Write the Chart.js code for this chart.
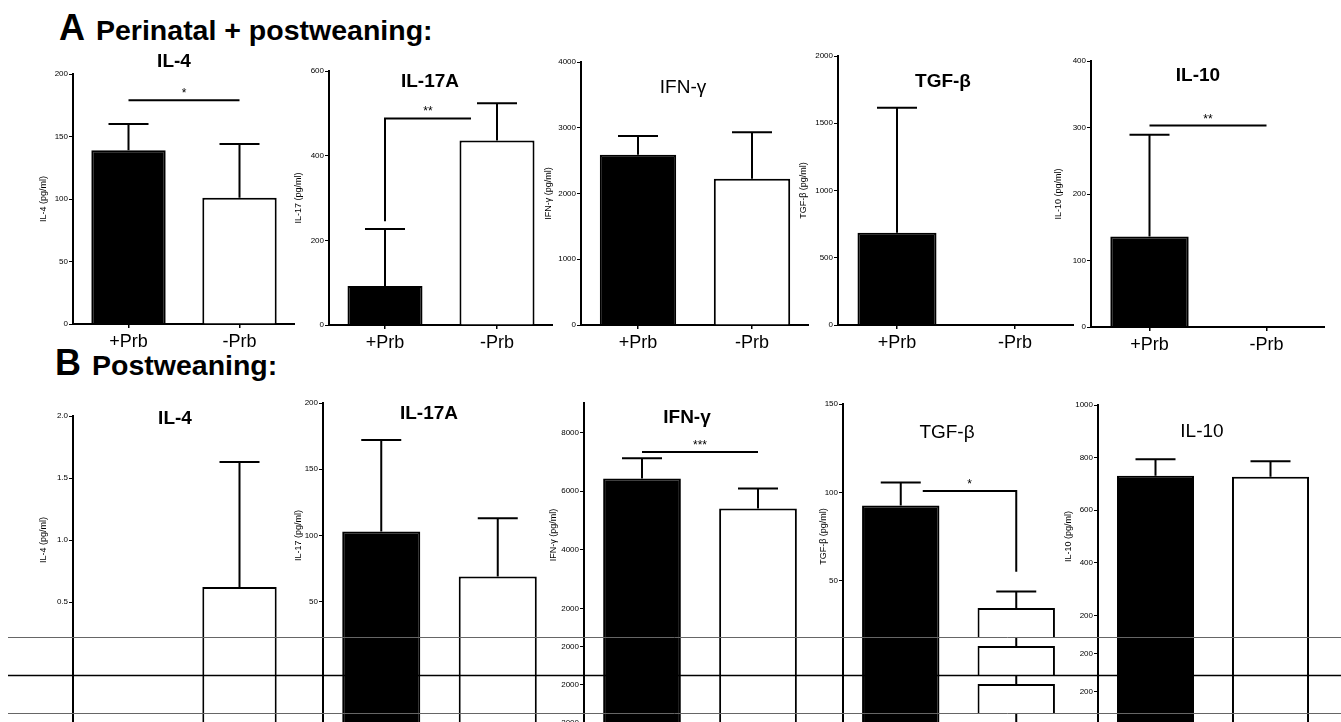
<!DOCTYPE html>
<html lang="en">
<head>
  <meta charset="UTF-8">
  <title>Cytokines: perinatal + postweaning vs postweaning</title>
  <script src="https://cdn.jsdelivr.net/npm/chart.js"></script>
  <style>
    body { margin: 0; background: #fff; font-family: Arial, "Liberation Sans", sans-serif; }
    #page { position: relative; width: 1341px; height: 722px; overflow: hidden; background: #fff; }
    .head { position: absolute; font-weight: bold; white-space: nowrap; line-height: 1; color: #000; }
    .head .big { font-size: 36px; }
    .head .rest { font-size: 28.5px; margin-left: 11px; }
    .ttl { position: absolute; transform: translateX(-50%); font-size: 19px; line-height: 1; white-space: nowrap; color: #000; }
    canvas { position: absolute; }
    #band { left: 0; top: 637px; }
  </style>
</head>
<body>
<div id="page">
  <div class="head" style="left:59px; top:10px;"><span class="big">A</span><span class="rest">Perinatal + postweaning:</span></div>
  <div class="head" style="left:55px; top:345px;"><span class="big">B</span><span class="rest">Postweaning:</span></div>
  <canvas id="band" width="1341" height="85"></canvas>
</div>

<script>
  Chart.defaults.font.family = 'Arial, "Liberation Sans", sans-serif';
  Chart.defaults.color = '#000';

  const groups = ['+Prb', '-Prb'];

  // A: perinatal + postweaning (mean, error bar length)
  const aIL4Mean = [139, 101];
  const aIL4Err = [21, 43];
  const aIL17Mean = [92, 436];
  const aIL17Err = [135, 88];
  const aIFNMean = [2590, 2225];
  const aIFNErr = [285, 705];
  const aTGFMean = [686, 0];
  const aTGFErr = [930, 0];
  const aIL10Mean = [136, 1];
  const aIL10Err = [153, 0];

  // B: postweaning only
  const bIL4Mean = [0, 0.62];
  const bIL4Err = [0, 1.01];
  const bIL17Mean = [103, 69];
  const bIL17Err = [69, 44];
  const bIFNMean = [6430, 5400];
  const bIFNErr = [690, 685];
  const bTGFMean = [92.5, 34.5];
  const bTGFErr = [13, 9.3];
  const bIL10Mean = [731, 727];
  const bIL10Err = [63, 59];

  // axis ranges: [max, step, labelled every]
  const aIL4Axis = [200, 50, 50];
  const aIL17Axis = [600, 200, 200];
  const aIFNAxis = [4000, 1000, 1000];
  const aTGFAxis = [2000, 500, 500];
  const aIL10Axis = [400, 100, 100];
  const bIL4Axis = [2, 0.5, 0.5];
  const bIL17Axis = [200, 50, 50];
  const bIFNAxis = [9000, 1000, 2000];
  const bTGFAxis = [150, 50, 50];
  const bIL10Axis = [1000, 200, 200];

  // box: [y-axis x, top y, zero y, x-axis end]  (page pixels)
  const panels = [
    { title: 'IL-4', bold: true, yTitle: 'IL-4 (pg/ml)', mean: aIL4Mean, err: aIL4Err, axis: aIL4Axis,
      box: [73, 74, 324, 295], t: [174, 60], gap: 30, sig: { y: 179, from: 0, to: 1, text: '*' } },
    { title: 'IL-17A', bold: true, yTitle: 'IL-17 (pg/ml)', mean: aIL17Mean, err: aIL17Err, axis: aIL17Axis,
      box: [329, 71, 325, 553], t: [430, 80], gap: 31, sig: { y: 488, from: 0, to: 1, drop1: 245, x2Off: -26, text: '**' } },
    { title: 'IFN-γ', bold: false, yTitle: 'IFN-γ (pg/ml)', mean: aIFNMean, err: aIFNErr, axis: aIFNAxis,
      box: [581, 62, 325, 809], t: [683, 86], gap: 33 },
    { title: 'TGF-β', bold: true, yTitle: 'TGF-β (pg/ml)', mean: aTGFMean, err: aTGFErr, axis: aTGFAxis,
      box: [838, 56, 325, 1074], t: [943, 80], gap: 35 },
    { title: 'IL-10', bold: true, yTitle: 'IL-10 (pg/ml)', mean: aIL10Mean, err: aIL10Err, axis: aIL10Axis,
      box: [1091, 61, 327, 1325], t: [1198, 74], gap: 33, sig: { y: 303, from: 0, to: 1, text: '**' } },

    { title: 'IL-4', bold: true, yTitle: 'IL-4 (pg/ml)', mean: bIL4Mean, err: bIL4Err, axis: bIL4Axis, dec: 1,
      box: [73, 416, 664, 295], t: [175, 417], gap: 30, band: 608 },
    { title: 'IL-17A', bold: true, yTitle: 'IL-17 (pg/ml)', mean: bIL17Mean, err: bIL17Err, axis: bIL17Axis,
      box: [323, 403, 668, 556], t: [429, 412], gap: 25, band: 608 },
    { title: 'IFN-γ', bold: true, yTitle: 'IFN-γ (pg/ml)', mean: bIFNMean, err: bIFNErr, axis: bIFNAxis,
      box: [584, 403, 667, 816], t: [687, 416], gap: 31, band: 599, sig: { y: 7330, from: 0, to: 1, text: '***' } },
    { title: 'TGF-β', bold: false, yTitle: 'TGF-β (pg/ml)', mean: bTGFMean, err: bTGFErr, axis: bTGFAxis,
      box: [843, 404, 669, 1074], t: [947, 431], gap: 20, band: 599, sig: { y: 100.8, from: 0, to: 1, x1Off: 22, drop2: 55, text: '*' } },
    { title: 'IL-10', bold: false, yTitle: 'IL-10 (pg/ml)', mean: bIL10Mean, err: bIL10Err, axis: bIL10Axis,
      box: [1098, 405, 668, 1328], t: [1202, 430], gap: 30, band: 599 }
  ];

  const page = document.getElementById('page');
  const bandCharts = [];

  // error bars + significance brackets
  function marks(p) {
    return {
      id: 'marks',
      afterDatasetsDraw(chart) {
        const { ctx, scales: { x, y } } = chart;
        ctx.save();
        ctx.strokeStyle = '#000';
        ctx.fillStyle = '#000';
        ctx.lineWidth = 2;
        p.mean.forEach((m, i) => {
          if (!p.err[i]) return;
          const cx = x.getPixelForValue(i);
          const y0 = y.getPixelForValue(m);
          const y1 = y.getPixelForValue(m + p.err[i]);
          ctx.beginPath();
          ctx.moveTo(cx, y0);
          ctx.lineTo(cx, y1);
          ctx.moveTo(cx - 20, y1);
          ctx.lineTo(cx + 20, y1);
          ctx.stroke();
        });
        const s = p.sig;
        if (s) {
          const x1 = x.getPixelForValue(s.from) + (s.x1Off || 0);
          const x2 = x.getPixelForValue(s.to) + (s.x2Off || 0);
          const ys = y.getPixelForValue(s.y);
          ctx.beginPath();
          if (s.drop1 != null) {
            ctx.moveTo(x1, y.getPixelForValue(s.drop1));
            ctx.lineTo(x1, ys);
          } else {
            ctx.moveTo(x1, ys);
          }
          ctx.lineTo(x2, ys);
          if (s.drop2 != null) ctx.lineTo(x2, y.getPixelForValue(s.drop2));
          ctx.stroke();
          ctx.font = '12px Arial, "Liberation Sans", sans-serif';
          ctx.textAlign = 'center';
          ctx.textBaseline = 'alphabetic';
          ctx.fillText(s.text, (x1 + x2) / 2, ys - 3);
        }
        ctx.restore();
      }
    };
  }

  panels.forEach(p => {
    const [ax, top, zero, end] = p.box;
    const [max, step, every] = p.axis;
    const cv = document.createElement('canvas');
    const w = end - ax + 60;
    const h = zero - top + 10 + 40;
    cv.width = w;
    cv.height = h;
    cv.style.left = (ax - 60) + 'px';
    cv.style.top = (top - 10) + 'px';
    cv.style.width = w + 'px';
    cv.style.height = h + 'px';
    page.insertBefore(cv, document.getElementById('band'));

    const t = document.createElement('div');
    t.className = 'ttl';
    t.textContent = p.title;
    t.style.left = p.t[0] + 'px';
    t.style.top = (p.t[1] - 9) + 'px';
    t.style.fontWeight = p.bold ? 'bold' : 'normal';
    page.appendChild(t);

    const chart = new Chart(cv, {
      type: 'bar',
      data: {
        labels: groups,
        datasets: [{
          data: p.mean,
          backgroundColor: ['#000', '#fff'],
          borderColor: '#000',
          borderWidth: 2,
          borderSkipped: 'bottom',
          barPercentage: 0.67,
          categoryPercentage: 1
        }]
      },
      options: {
        responsive: false,
        animation: false,
        events: [],
        layout: { padding: { top: 10, left: 0, right: 0, bottom: 0 } },
        plugins: { legend: { display: false }, tooltip: { enabled: false } },
        scales: {
          x: {
            grid: { drawOnChartArea: false, drawTicks: true, tickLength: 4, offset: false, color: '#000', lineWidth: 1.5 },
            border: { display: true, color: '#000', width: 2 },
            ticks: { font: { size: 18 }, color: '#000', padding: 3 },
            afterFit: s => { s.height = 40; }
          },
          y: {
            min: 0,
            max: max,
            afterBuildTicks: s => {
              s.ticks = s.ticks.filter(k => Math.abs(k.value / every - Math.round(k.value / every)) < 1e-6);
            },
            ticks: {
              stepSize: step,
              font: { size: 8 },
              color: '#000',
              padding: 1,
              callback: v => p.dec ? Number(v).toFixed(p.dec) : v
            },
            grid: { drawOnChartArea: false, drawTicks: true, tickLength: 4, color: '#000', lineWidth: 1 },
            border: { display: true, color: '#000', width: 2 },
            title: { display: true, text: p.yTitle, font: { size: 9 }, color: '#000', padding: { top: 60 - p.gap - 5, bottom: 0 } },
            afterFit: s => { s.width = 60; }
          }
        }
      },
      plugins: [marks(p)]
    });
    if (p.band) bandCharts.push({ chart, src: p.band });
  });

  // the scan repeats a strip just above the baseline three times
  function tileBand() {
    const band = document.getElementById('band');
    const bctx = band.getContext('2d');
    bctx.fillStyle = '#fff';
    bctx.fillRect(0, 0, band.width, band.height);
    bandCharts.forEach(({ chart, src }) => {
      const cv = chart.canvas;
      const left = parseFloat(cv.style.left), top = parseFloat(cv.style.top);
      for (let k = 0; k < 3; k++) {
        bctx.drawImage(cv, 0, src - top, cv.width, 38, left, k * 38, cv.width, 38);
      }
    });
    [[0.5, '#666', 1], [38.5, '#000', 1.5], [76.5, '#666', 1]].forEach(([yy, col, lw]) => {
      bctx.strokeStyle = col;
      bctx.lineWidth = lw;
      bctx.beginPath();
      bctx.moveTo(8, yy);
      bctx.lineTo(1341, yy);
      bctx.stroke();
    });
  }
  tileBand();
  setTimeout(tileBand, 50);
</script>
</body>
</html>
